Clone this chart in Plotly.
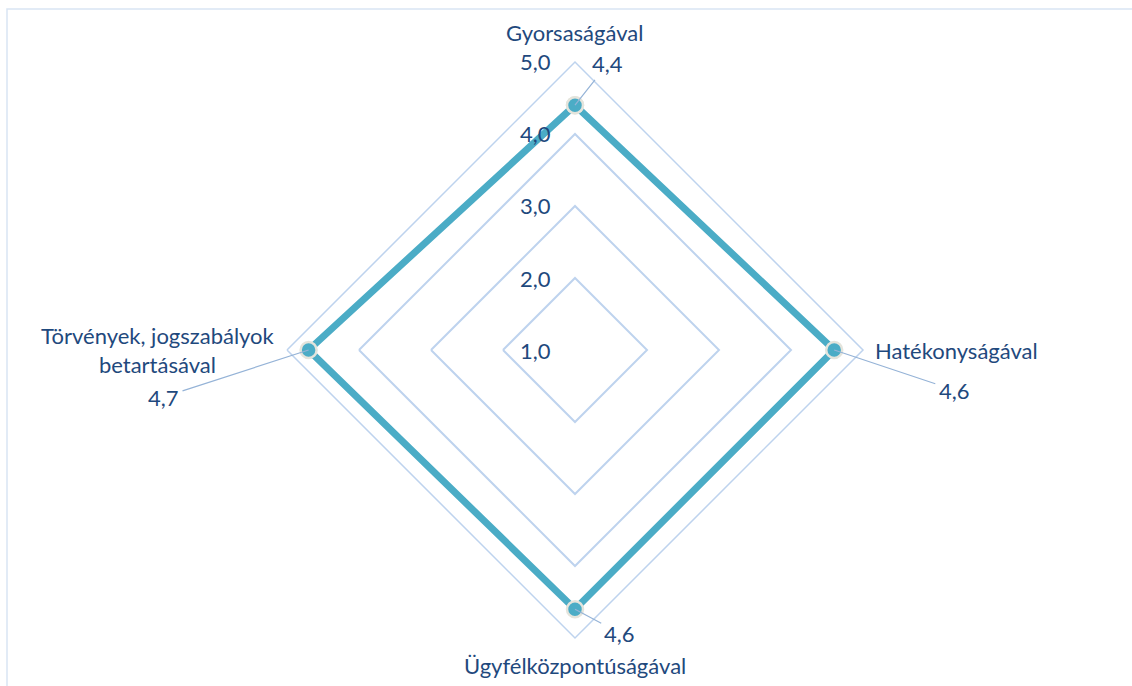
import plotly.graph_objects as go

categories = ["Gyorsaságával", "Hatékonyságával", "Ügyfélközpontúságával",
              "Törvények, jogszabályok<br>betartásával"]
values = [4.4, 4.6, 4.6, 4.7]
value_labels = ["4,4", "4,6", "4,6", "4,7"]
radial_ticks = [1, 2, 3, 4, 5]
radial_tick_labels = ["1,0", "2,0", "3,0", "4,0", "5,0"]

W, H = 1132, 686
R_MIN, R_MAX = 1, 5
# polar geometry (pixels)
CX, CY, RAD = 575, 350, 288
dom_y = [1 - (CY + RAD) / H, 1 - (CY - RAD) / H]
dom_x = [(CX - RAD) / W, (CX + RAD) / W]

TEXT = "#1F497D"
GRID = "#BED3EE"
LINE = "#4BACC6"
FONT = "Lato"
FS = 22

fig = go.Figure()
fig.add_trace(go.Scatterpolar(
    r=values + values[:1], theta=categories + categories[:1],
    mode="lines+markers",
    line=dict(color=LINE, width=7),
    marker=dict(size=16, color=LINE, line=dict(color="#E4E4DC", width=2.5)),
    hoverinfo="skip", showlegend=False,
))

# direction vectors (clockwise from top)
dirs = [(0, -1), (1, 0), (0, 1), (-1, 0)]


def to_paper(r, d):
    f = (r - R_MIN) / (R_MAX - R_MIN) * RAD
    px = CX + d[0] * f
    py = CY + d[1] * f
    return px / W, 1 - py / H


annotations = []

# category labels just outside the outer ring
cat_place = [
    dict(xanchor="center", yanchor="middle", xshift=0, yshift=29),
    dict(xanchor="left", yanchor="middle", xshift=10, yshift=0),
    dict(xanchor="center", yanchor="middle", xshift=0, yshift=-27),
    dict(xanchor="right", yanchor="middle", xshift=-10, yshift=0),
]
for cat, d, pl in zip(categories, dirs, cat_place):
    x, y = to_paper(R_MAX, d)
    annotations.append(dict(
        x=x, y=y, xref="paper", yref="paper", text=cat, showarrow=False,
        align="center", font=dict(family=FONT, size=FS, color=TEXT), **pl))

label_offsets = [(33, -42), (120, 40), (45, 24), (-145, 47)]
for v, lab, d, (ax, ay) in zip(values, value_labels, dirs, label_offsets):
    x, y = to_paper(v, d)
    annotations.append(dict(
        x=x, y=y, xref="paper", yref="paper", text=lab,
        showarrow=True, arrowhead=0, arrowwidth=1.2, arrowcolor="#95B3D7",
        ax=ax, ay=ay, standoff=0, startstandoff=2,
        font=dict(family=FONT, size=FS, color=TEXT),
    ))

for r, lab in zip(radial_ticks, radial_tick_labels):
    x, y = to_paper(r, dirs[0])
    annotations.append(dict(
        x=x, y=y, xref="paper", yref="paper", text=lab, showarrow=False,
        xanchor="right", yanchor="middle", xshift=-22,
        font=dict(family=FONT, size=FS, color=TEXT),
    ))

fig.update_layout(
    width=W, height=H,
    margin=dict(l=0, r=0, t=0, b=0),
    paper_bgcolor="white",
    polar=dict(
        domain=dict(x=dom_x, y=dom_y),
        bgcolor="white",
        gridshape="linear",
        radialaxis=dict(range=[R_MIN, R_MAX], dtick=1, showticklabels=False,
                        ticks="", showline=False, gridcolor=GRID, gridwidth=1.5,
                        angle=90),
        angularaxis=dict(rotation=90, direction="clockwise", showgrid=False,
                         showline=True, linecolor=GRID, linewidth=1.5, ticks="",
                         showticklabels=False),
    ),
    annotations=annotations,
    shapes=[dict(type="rect", xref="paper", yref="paper",
                 x0=7 / W, x1=1.02, y0=-0.05, y1=1 - 9 / H,
                 line=dict(color="#D9E5F3", width=1.5))],
)

fig.write_html("out.html", config={"displayModeBar": False},
               post_script="document.body.style.margin='0';")
